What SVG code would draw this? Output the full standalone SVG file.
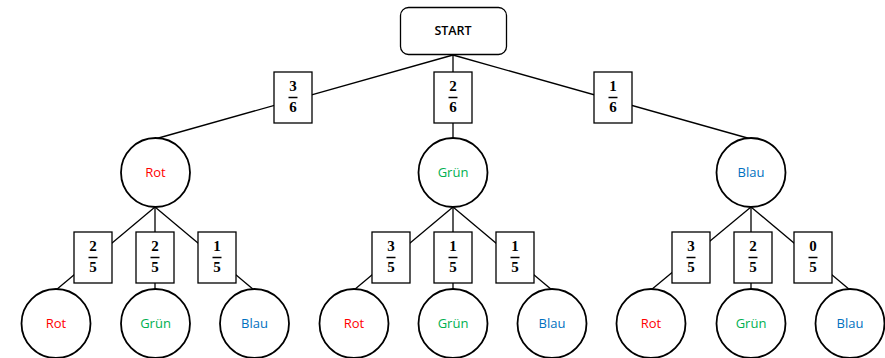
<svg xmlns="http://www.w3.org/2000/svg" width="885" height="358" viewBox="0 0 885 358">
<defs>
<style>
.edge{stroke:#000;stroke-width:1.3;fill:none}
.box{fill:#fff;stroke:#000;stroke-width:1.3}
.circ{fill:#fff;stroke:#000;stroke-width:1.8}
.frac{font-family:"Liberation Serif",serif;font-weight:bold;font-size:15px;text-anchor:middle;fill:#000}
.bar{stroke:#000;stroke-width:1.5}
.lbl{font-family:"Open Sans","Liberation Sans",sans-serif;font-size:13px;text-anchor:middle}
.rot{fill:#ff0000}.gruen{fill:#00b050}.blau{fill:#0070c0}
</style>
</defs>
<rect width="885" height="358" fill="#fff"/>
<g id="connectors">
<line class="edge" x1="453" y1="55" x2="155" y2="139"/>
<line class="edge" x1="453" y1="55" x2="453" y2="139"/>
<line class="edge" x1="453" y1="55" x2="751" y2="139"/>
<line class="edge" x1="155" y1="207" x2="56" y2="290"/>
<line class="edge" x1="155" y1="207" x2="155" y2="290"/>
<line class="edge" x1="155" y1="207" x2="254" y2="290"/>
<line class="edge" x1="453" y1="207" x2="354" y2="290"/>
<line class="edge" x1="453" y1="207" x2="453" y2="290"/>
<line class="edge" x1="453" y1="207" x2="552" y2="290"/>
<line class="edge" x1="751" y1="207" x2="651" y2="290"/>
<line class="edge" x1="751" y1="207" x2="751" y2="290"/>
<line class="edge" x1="751" y1="207" x2="850" y2="290"/>
</g>
<g id="start">
<rect x="400.5" y="7.5" width="106" height="47" rx="8" class="box" stroke-width="1.6"/>
<text x="453" y="35" font-family="Open Sans,Liberation Sans,sans-serif" font-size="12.5" text-anchor="middle" font-weight="600">START</text>
</g>
<g id="p1"><rect x="274" y="72" width="38" height="51" class="box"/><text class="frac" x="293" y="91">3</text><line class="bar" x1="288.5" y1="97.5" x2="297.5" y2="97.5"/><text class="frac" x="293" y="112">6</text></g>
<g id="p2"><rect x="434" y="72" width="38" height="51" class="box"/><text class="frac" x="453" y="91">2</text><line class="bar" x1="448.5" y1="97.5" x2="457.5" y2="97.5"/><text class="frac" x="453" y="112">6</text></g>
<g id="p3"><rect x="594" y="72" width="38" height="51" class="box"/><text class="frac" x="613" y="91">1</text><line class="bar" x1="608.5" y1="97.5" x2="617.5" y2="97.5"/><text class="frac" x="613" y="112">6</text></g>
<g id="n_rot"><circle cx="155.5" cy="172.5" r="34.5" class="circ"/><text class="lbl rot" x="155.5" y="177">Rot</text></g>
<g id="n_gruen"><circle cx="453" cy="172.5" r="34.5" class="circ"/><text class="lbl gruen" x="453" y="177">Grün</text></g>
<g id="n_blau"><circle cx="751" cy="172.5" r="34.5" class="circ"/><text class="lbl blau" x="751" y="177">Blau</text></g>
<g id="p11"><rect x="74" y="232" width="38" height="51" class="box"/><text class="frac" x="93" y="251">2</text><line class="bar" x1="88.5" y1="257.5" x2="97.5" y2="257.5"/><text class="frac" x="93" y="272">5</text></g>
<g id="p12"><rect x="136" y="232" width="38" height="51" class="box"/><text class="frac" x="155" y="251">2</text><line class="bar" x1="150.5" y1="257.5" x2="159.5" y2="257.5"/><text class="frac" x="155" y="272">5</text></g>
<g id="p13"><rect x="198" y="232" width="38" height="51" class="box"/><text class="frac" x="217" y="251">1</text><line class="bar" x1="212.5" y1="257.5" x2="221.5" y2="257.5"/><text class="frac" x="217" y="272">5</text></g>
<g id="p21"><rect x="372" y="232" width="38" height="51" class="box"/><text class="frac" x="391" y="251">3</text><line class="bar" x1="386.5" y1="257.5" x2="395.5" y2="257.5"/><text class="frac" x="391" y="272">5</text></g>
<g id="p22"><rect x="434" y="232" width="38" height="51" class="box"/><text class="frac" x="453" y="251">1</text><line class="bar" x1="448.5" y1="257.5" x2="457.5" y2="257.5"/><text class="frac" x="453" y="272">5</text></g>
<g id="p23"><rect x="496" y="232" width="38" height="51" class="box"/><text class="frac" x="515" y="251">1</text><line class="bar" x1="510.5" y1="257.5" x2="519.5" y2="257.5"/><text class="frac" x="515" y="272">5</text></g>
<g id="p31"><rect x="672" y="232" width="38" height="51" class="box"/><text class="frac" x="691" y="251">3</text><line class="bar" x1="686.5" y1="257.5" x2="695.5" y2="257.5"/><text class="frac" x="691" y="272">5</text></g>
<g id="p32"><rect x="734" y="232" width="38" height="51" class="box"/><text class="frac" x="753" y="251">2</text><line class="bar" x1="748.5" y1="257.5" x2="757.5" y2="257.5"/><text class="frac" x="753" y="272">5</text></g>
<g id="p33"><rect x="794" y="232" width="38" height="51" class="box"/><text class="frac" x="813" y="251">0</text><line class="bar" x1="808.5" y1="257.5" x2="817.5" y2="257.5"/><text class="frac" x="813" y="272">5</text></g>
<g id="l_rot_rot"><circle cx="56" cy="323.5" r="34.5" class="circ"/><text class="lbl rot" x="56" y="328">Rot</text></g>
<g id="l_rot_gruen"><circle cx="155.5" cy="323.5" r="34.5" class="circ"/><text class="lbl gruen" x="155.5" y="328">Grün</text></g>
<g id="l_rot_blau"><circle cx="254.5" cy="323.5" r="34.5" class="circ"/><text class="lbl blau" x="254.5" y="328">Blau</text></g>
<g id="l_gruen_rot"><circle cx="354" cy="323.5" r="34.5" class="circ"/><text class="lbl rot" x="354" y="328">Rot</text></g>
<g id="l_gruen_gruen"><circle cx="453" cy="323.5" r="34.5" class="circ"/><text class="lbl gruen" x="453" y="328">Grün</text></g>
<g id="l_gruen_blau"><circle cx="552" cy="323.5" r="34.5" class="circ"/><text class="lbl blau" x="552" y="328">Blau</text></g>
<g id="l_blau_rot"><circle cx="651" cy="323.5" r="34.5" class="circ"/><text class="lbl rot" x="651" y="328">Rot</text></g>
<g id="l_blau_gruen"><circle cx="751" cy="323.5" r="34.5" class="circ"/><text class="lbl gruen" x="751" y="328">Grün</text></g>
<g id="l_blau_blau"><circle cx="850" cy="323.5" r="34.5" class="circ"/><text class="lbl blau" x="850" y="328">Blau</text></g>
</svg>
